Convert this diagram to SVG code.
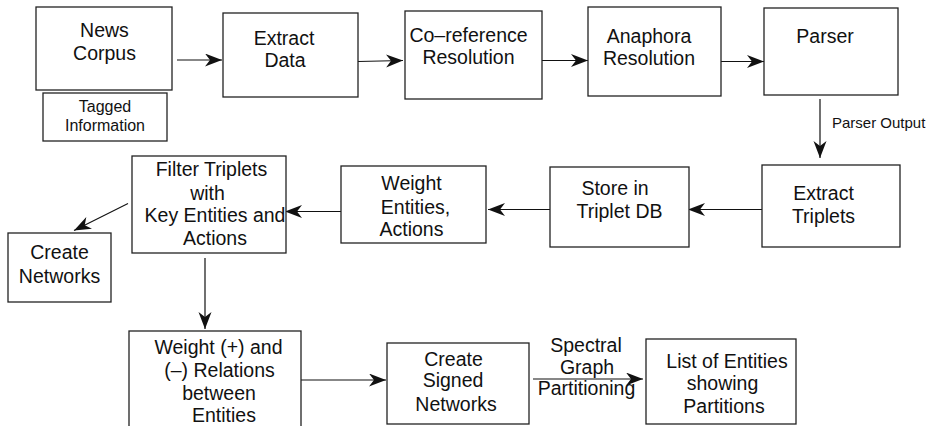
<svg xmlns="http://www.w3.org/2000/svg" width="936" height="426" viewBox="0 0 936 426">
<style>
.box{fill:#fff;stroke:#222;stroke-width:1.3}
.t{font-family:"Liberation Sans",Arial,sans-serif;font-size:19.5px;fill:#111;text-anchor:middle}
.s{font-size:15px;text-anchor:start}
.m{font-size:16px}
.c{stroke:#111;stroke-width:1.2;fill:none;marker-end:url(#ah)}
</style>
<defs>
<marker id="ah" markerUnits="userSpaceOnUse" markerWidth="18" markerHeight="14" refX="17" refY="6.5" orient="auto">
<path d="M0,0 L17,6.5 L0,13 L5,6.5 Z" fill="#111"/>
</marker>
</defs>
<rect width="936" height="426" fill="#fff"/>
<g id="connectors">
<line class="c" x1="177" y1="60" x2="222" y2="60"/>
<line class="c" x1="358" y1="61.5" x2="403" y2="60.5"/>
<line class="c" x1="542" y1="60.5" x2="588" y2="60.5"/>
<line class="c" x1="721" y1="61.5" x2="764" y2="61.5"/>
<line class="c" x1="820" y1="99" x2="820" y2="158"/>
<line class="c" x1="762" y1="209.5" x2="688" y2="209.5"/>
<line class="c" x1="550" y1="209.5" x2="488" y2="209.5"/>
<line class="c" x1="341" y1="211.5" x2="285" y2="211.5"/>
<line class="c" x1="128" y1="203.5" x2="74" y2="230.5"/>
<line class="c" x1="205" y1="258" x2="205" y2="329"/>
<line class="c" x1="301" y1="380" x2="386" y2="380"/>
<line class="c" x1="533" y1="379" x2="643" y2="379"/>
</g>
<g id="news-corpus">
<rect class="box" x="36" y="7" width="136" height="83"/>
<text class="t" x="104.5" y="36.5">News</text>
<text class="t" x="104.5" y="60">Corpus</text>
</g>
<g id="tagged-information">
<rect class="box" x="43" y="93" width="124" height="48"/>
<text class="t m" x="105" y="111.5">Tagged</text>
<text class="t m" x="105" y="130.5">Information</text>
</g>
<g id="extract-data">
<rect class="box" x="223" y="13" width="135" height="84"/>
<text class="t" x="284" y="45">Extract</text>
<text class="t" x="285" y="66.5">Data</text>
</g>
<g id="coreference">
<rect class="box" x="405" y="11" width="137" height="88"/>
<text class="t" x="468.5" y="41.5">Co–reference</text>
<text class="t" x="468.5" y="64">Resolution</text>
</g>
<g id="anaphora">
<rect class="box" x="588" y="7" width="133" height="89"/>
<text class="t" x="649" y="43">Anaphora</text>
<text class="t" x="649" y="65">Resolution</text>
</g>
<g id="parser">
<rect class="box" x="764" y="8" width="134" height="87"/>
<text class="t" x="825" y="43">Parser</text>
</g>
<text class="t s" x="832" y="127.5">Parser Output</text>
<g id="extract-triplets">
<rect class="box" x="762" y="165" width="138" height="82"/>
<text class="t" x="823.5" y="200">Extract</text>
<text class="t" x="823.5" y="222.5">Triplets</text>
</g>
<g id="store-triplet-db">
<rect class="box" x="550" y="167" width="139" height="80"/>
<text class="t" x="615" y="195">Store in</text>
<text class="t" x="619.5" y="217.5">Triplet DB</text>
</g>
<g id="weight-entities">
<rect class="box" x="341" y="166" width="145" height="77"/>
<text class="t" x="411.5" y="190">Weight</text>
<text class="t" x="415.5" y="213.5">Entities,</text>
<text class="t" x="411.5" y="235.5">Actions</text>
</g>
<g id="filter-triplets">
<rect class="box" x="132" y="156" width="154" height="97"/>
<text class="t" x="211.5" y="176">Filter Triplets</text>
<text class="t" x="207.5" y="199.5">with</text>
<text class="t" x="215" y="221.5">Key Entities and</text>
<text class="t" x="215" y="245">Actions</text>
</g>
<g id="create-networks">
<rect class="box" x="8" y="233" width="103" height="69"/>
<text class="t" x="59.5" y="259">Create</text>
<text class="t" x="59.5" y="282.5">Networks</text>
</g>
<g id="weight-relations">
<rect class="box" x="129" y="331" width="172" height="110"/>
<text class="t" x="218.5" y="354">Weight (+) and</text>
<text class="t" x="219.5" y="377">(–) Relations</text>
<text class="t" x="219" y="400">between</text>
<text class="t" x="224" y="421.5">Entities</text>
</g>
<g id="create-signed-networks">
<rect class="box" x="387" y="343" width="142" height="81"/>
<text class="t" x="453.5" y="366">Create</text>
<text class="t" x="453" y="387">Signed</text>
<text class="t" x="456" y="410.5">Networks</text>
</g>
<g id="spectral-label">
<text class="t" x="586" y="351.5">Spectral</text>
<text class="t" x="587" y="374">Graph</text>
<text class="t" x="586.5" y="395">Partitioning</text>
</g>
<g id="list-of-entities">
<rect class="box" x="646" y="339" width="150" height="85"/>
<text class="t" x="727" y="368">List of Entities</text>
<text class="t" x="722.5" y="390">showing</text>
<text class="t" x="724" y="412.5">Partitions</text>
</g>
</svg>
